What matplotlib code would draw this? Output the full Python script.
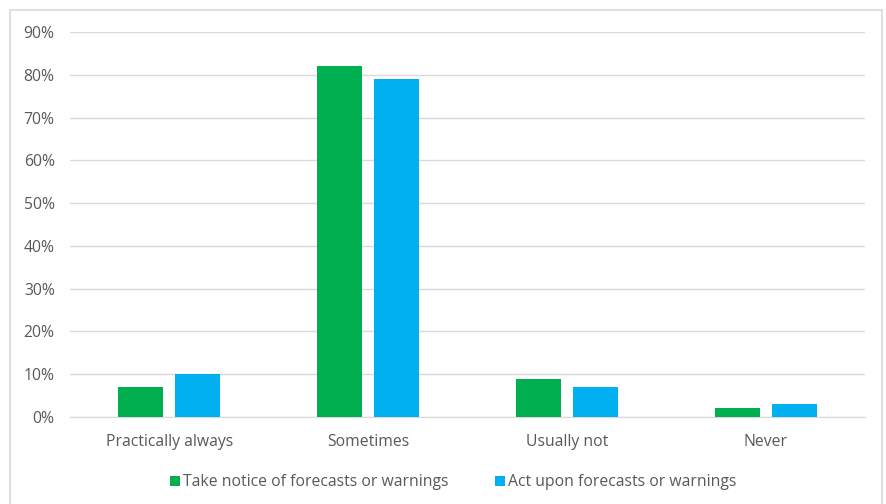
import numpy as np
import matplotlib.pyplot as plt
from matplotlib.patches import Rectangle
from matplotlib.ticker import PercentFormatter

# Data
categories = ["Practically always", "Sometimes", "Usually not", "Never"]
take_notice = [7, 82, 9, 2]
act_upon = [10, 79, 7, 3]
series_names = ["Take notice of forecasts or warnings", "Act upon forecasts or warnings"]

GREEN = "#00B050"
BLUE = "#00B0F0"
TEXT = "#595959"
FS = 11.3

plt.rcParams['font.family'] = ['Open Sans', 'DejaVu Sans']

fig = plt.figure(figsize=(8.87, 5.04), dpi=100)

# chart frame
fig.patches.append(Rectangle((10 / 887, -0.01), 872 / 887, 1 - 10 / 504 + 0.01,
                             transform=fig.transFigure, fill=False,
                             edgecolor="#d9d9d9", lw=1.2))

ax = fig.add_axes([70 / 887, 1 - 417 / 504, 795 / 887, (417 - 32) / 504])

x = np.arange(len(categories))
w = 0.226
gap = 0.06
ax.bar(x - (w + gap) / 2, take_notice, w, color=GREEN, label=series_names[0], zorder=3)
ax.bar(x + (w + gap) / 2, act_upon, w, color=BLUE, label=series_names[1], zorder=3)

ax.set_xlim(-0.5, len(categories) - 0.5)
ax.set_ylim(0, 90)
ax.set_yticks(np.arange(0, 91, 10))
ax.yaxis.set_major_formatter(PercentFormatter(decimals=0))
ax.set_xticks(x)
ax.set_xticklabels(categories)

ax.grid(axis="y", color="#d9d9d9", lw=1, zorder=0)
for s in ["top", "right", "left"]:
    ax.spines[s].set_visible(False)
ax.spines["bottom"].set_color("#d9d9d9")
ax.tick_params(axis="both", length=0, colors=TEXT, labelsize=FS)
ax.tick_params(axis="y", pad=11)
ax.tick_params(axis="x", pad=12)

leg = ax.legend(loc="center", bbox_to_anchor=(0.482, -0.17), ncol=2, frameon=False,
                fontsize=FS, handlelength=0.6, handleheight=0.6, handletextpad=0.2,
                columnspacing=3.0, labelcolor=TEXT)

fig.savefig("out.png", dpi=100)
